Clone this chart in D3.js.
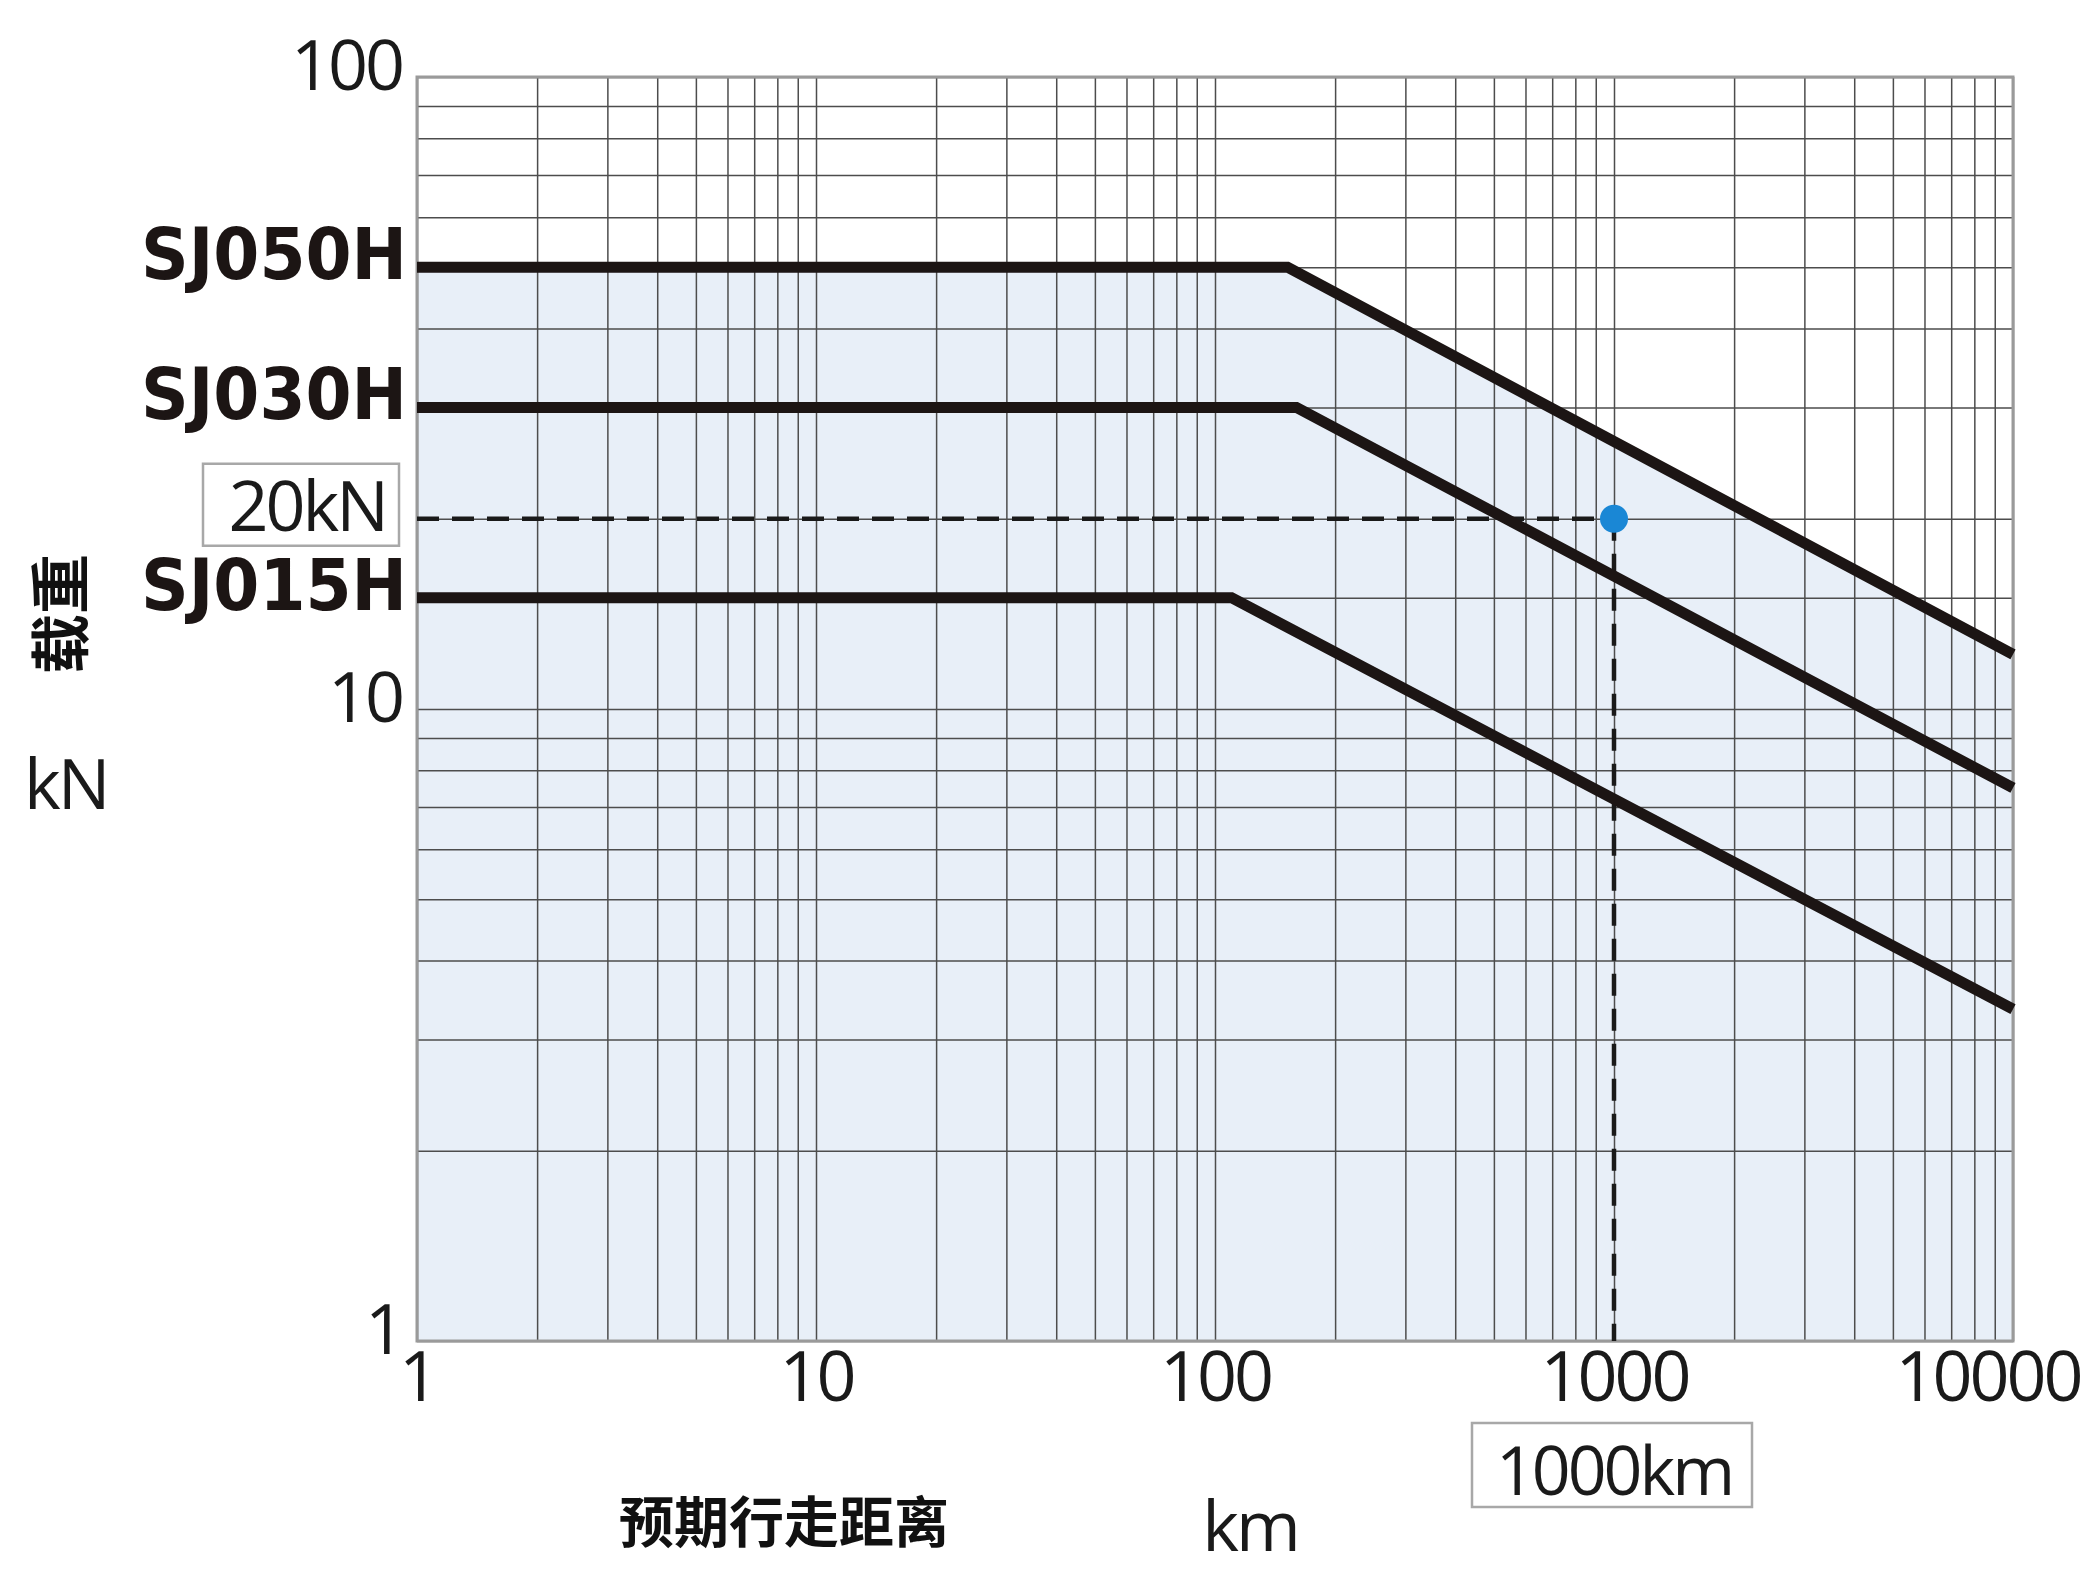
<!DOCTYPE html>
<html>
<head>
<meta charset="utf-8">
<script src="https://cdn.jsdelivr.net/npm/d3@7/dist/d3.min.js"></script>
<style>
body { margin: 0; background: #fff; }
svg { display: block; }
.num { font-family: "Open Sans", sans-serif; font-size: 70px; letter-spacing: -3px; fill: #1a1a1a; }
.sj { font-family: "DejaVu Sans", sans-serif; font-weight: bold; font-size: 72px; fill: #1c1514; }
.cjk { font-family: "Noto Sans CJK SC", sans-serif; font-weight: bold; fill: #111; }
.grid line { stroke: #4d4d4d; stroke-width: 1.5; }
</style>
</head>
<body>
<script>
// values
var xTicks = [1, 10, 100, 1000, 10000];
var yTicks = [1, 10, 100];
var seriesNames = ["SJ050H", "SJ030H", "SJ015H"];
var sj050h = [[1, 50], [152, 50], [10000, 12.2]];
var sj030h = [[1, 30], [160, 30], [10000, 7.5]];
var sj015h = [[1, 15], [110, 15], [10000, 3.35]];
var seriesData = [sj050h, sj030h, sj015h];
var extraGridY = [15];
var exampleDist = 1000, exampleLoad = 20;
var exampleLabels = ["20kN", "1000km"];

var W = 2097, H = 1584;
var margin = {top: 77, right: 84, bottom: 243, left: 417};
var width = W - margin.left - margin.right,
    height = H - margin.top - margin.bottom;

var x = d3.scaleLog().domain([1, 10000]).range([0, width]);
var y = d3.scaleLog().domain([1, 100]).range([height, 0]);

// minor grid positions 1..9 per decade
var xMinor = [];
[1, 10, 100, 1000].forEach(function(p) {
    for (var i = 1; i < 10; i++) xMinor.push(i * p);
});
xMinor.push(10000);
var yMinor = [];
[1, 10].forEach(function(p) {
    for (var i = 1; i < 10; i++) yMinor.push(i * p);
});
yMinor.push(100);
yMinor = yMinor.concat(extraGridY);

var svg = d3.select("body").append("svg")
        .attr("width", W)
        .attr("height", H);
svg.append("rect").attr("width", W).attr("height", H).attr("fill", "#fff");

var g = svg.append("g")
        .attr("transform", "translate(" + margin.left + "," + margin.top + ")");

//light blue region under the top curve
var area = d3.area()
        .x(function(d) { return x(d[0]); })
        .y0(height)
        .y1(function(d) { return y(d[1]); });
g.append("path").datum(sj050h).attr("d", area).attr("fill", "#e8eff8");

//grid
g.append("g")
        .attr("class", "grid")
        .attr("transform", "translate(0," + height + ")")
        .call(d3.axisBottom(x).tickValues(xMinor).tickSize(-height).tickFormat(""))
        .call(function(s) { s.select(".domain").remove(); });
g.append("g")
        .attr("class", "grid")
        .call(d3.axisLeft(y).tickValues(yMinor).tickSize(-width).tickFormat(""))
        .call(function(s) { s.select(".domain").remove(); });

g.append("rect")
        .attr("width", width).attr("height", height)
        .attr("fill", "none").attr("stroke", "#9a9a9a").attr("stroke-width", 3);

//tick labels
var xAxis = g.append("g")
        .attr("transform", "translate(0," + height + ")")
        .call(d3.axisBottom(x).tickValues(xTicks).tickSize(0).tickPadding(10).tickFormat(d3.format("d")))
        .attr("font-size", null).attr("font-family", null);
xAxis.select(".domain").remove();
xAxis.selectAll("text").attr("class", "num").attr("fill", null);
xAxis.selectAll(".tick").filter(function(d) { return d === 10000; })
        .select("text").attr("text-anchor", "end").attr("x", 67);

var yAxis = g.append("g")
        .call(d3.axisLeft(y).tickValues(yTicks).tickSize(0).tickPadding(15).tickFormat(d3.format("d")))
        .attr("font-size", null).attr("font-family", null);
yAxis.select(".domain").remove();
yAxis.selectAll("text").attr("class", "num").attr("fill", null).attr("dy", 12);

//example: 20kN at 1000km
var line = d3.line()
        .x(function(d) { return x(d[0]); })
        .y(function(d) { return y(d[1]); });

g.append("path")
        .datum([[1, exampleLoad], [exampleDist, exampleLoad]])
        .attr("d", line)
        .attr("fill", "none").attr("stroke", "#1a1a1a")
        .attr("stroke-width", 4.5).attr("stroke-dasharray", "22,13");
g.append("line")
        .attr("x1", x(exampleDist)).attr("x2", x(exampleDist))
        .attr("y1", y(exampleLoad)).attr("y2", height)
        .attr("stroke", "#1a1a1a")
        .attr("stroke-width", 4.5).attr("stroke-dasharray", "22,13");

//curves
g.selectAll(".curve")
        .data(seriesData)
        .enter().append("path")
        .attr("class", "curve")
        .attr("d", line)
        .attr("fill", "none")
        .attr("stroke", "#1c1514")
        .attr("stroke-width", 11);

g.append("circle")
        .attr("cx", x(exampleDist)).attr("cy", y(exampleLoad))
        .attr("r", 14).attr("fill", "#1a87d5");

//series names
g.selectAll(".sj")
        .data(seriesData)
        .enter().append("text")
        .attr("class", "sj")
        .attr("x", -10)
        .attr("y", function(d) { return y(d[0][1]) + 12; })
        .attr("text-anchor", "end")
        .attr("textLength", 266)
        .attr("lengthAdjust", "spacingAndGlyphs")
        .text(function(d, i) { return seriesNames[i]; });

//boxed annotations
var yb = y(exampleLoad);
g.append("rect")
        .attr("x", -214).attr("y", yb - 55)
        .attr("width", 196).attr("height", 82)
        .attr("fill", "#fff").attr("stroke", "#a8a8a8").attr("stroke-width", 2.5);
g.append("text").attr("class", "num")
        .attr("x", -31).attr("y", yb + 12)
        .attr("text-anchor", "end")
        .text(exampleLabels[0]);

var xb = x(exampleDist);
g.append("rect")
        .attr("x", xb - 142).attr("y", height + 82)
        .attr("width", 280).attr("height", 84)
        .attr("fill", "#fff").attr("stroke", "#a8a8a8").attr("stroke-width", 2.5);
g.append("text").attr("class", "num")
        .attr("x", xb).attr("y", height + 154)
        .attr("text-anchor", "middle")
        .style("font-size", "68px")
        .text(exampleLabels[1]);

//axis titles
svg.append("text").attr("class", "cjk")
        .attr("transform", "translate(83,614) rotate(-90)")
        .attr("text-anchor", "middle")
        .attr("font-size", 60)
        .text("载重");
svg.append("text").attr("class", "num")
        .attr("x", 24).attr("y", 809)
        .text("kN");
svg.append("text").attr("class", "cjk")
        .attr("x", 784).attr("y", 1542)
        .attr("text-anchor", "middle")
        .attr("font-size", 55)
        .text("预期行走距离");
svg.append("text").attr("class", "num")
        .attr("x", 1250).attr("y", 1551)
        .attr("text-anchor", "middle")
        .text("km");
</script>
</body>
</html>
